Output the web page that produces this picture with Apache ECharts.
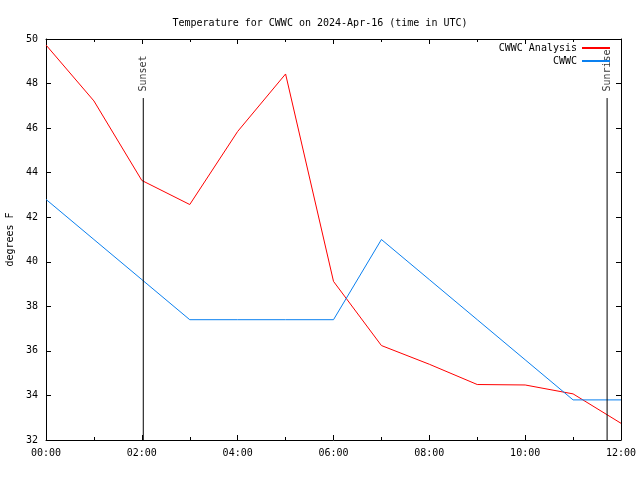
<!DOCTYPE html>
<html>
<head>
<meta charset="utf-8">
<script src="https://cdn.jsdelivr.net/npm/echarts@6/dist/echarts.min.js"></script>
<style>html,body{margin:0;padding:0;background:#fff}#c{width:640px;height:480px}</style>
</head>
<body>
<div id="c"></div>
<script>
const hours = [0,1,2,3,4,5,6,7,8,9,10,11,12];
const analysis = [49.73, 47.22, 43.65, 42.57, 45.85, 48.43, 39.12, 36.24, 35.4, 34.49, 34.47, 34.07, 32.75];
const observed = [42.8, 41.0, 39.2, 37.4, 37.4, 37.4, 37.4, 41.0, 39.2, 37.4, 35.6, 33.8, 33.8];
const sunsetHour = 2.03;
const sunriseHour = 11.71;
const markerTop = 47.35;
const markerNames = ['Sunset', 'Sunrise'];
const seriesNames = ['CWWC Analysis', 'CWWC'];
const titleText = 'Temperature for CWWC on 2024-Apr-16 (time in UTC)';
const yName = 'degrees F';

const FONT = 'DejaVu Sans Mono';
const fmtHour = v => (v < 10 ? '0' + v : '' + v) + ':00';

const chart = echarts.init(document.getElementById('c'), null, {renderer: 'canvas'});
const axisCommon = {
  axisLine: {show: true, onZero: false, lineStyle: {color: '#000', width: 1}},
  splitLine: {show: false}
};
const markerLabel = {show: true, position: 'top', distance: 6, rotate: 90,
  align: 'left', verticalAlign: 'middle', fontFamily: FONT, fontSize: 10, color: '#000',
  formatter: p => p.data[2]};
chart.setOption({
  animation: false,
  backgroundColor: '#fff',
  title: {text: titleText, left: 'center', top: 13,
    textStyle: {fontFamily: FONT, fontSize: 10, fontWeight: 'normal', color: '#000'}},
  legend: [
    {data: [seriesNames[0]], orient: 'vertical', right: 30, top: 43, align: 'right',
      itemWidth: 28, itemHeight: 2, icon: 'rect', padding: 0,
      textStyle: {fontFamily: FONT, fontSize: 10, color: '#000'}},
    {data: [seriesNames[1]], orient: 'vertical', right: 30, top: 56, align: 'right',
      itemWidth: 28, itemHeight: 2, icon: 'rect', padding: 0,
      textStyle: {fontFamily: FONT, fontSize: 10, color: '#000'}}
  ],
  grid: {left: 46, right: 19, top: 39, bottom: 40, containLabel: false, outerBoundsMode: 'none'},
  xAxis: [
    Object.assign({type: 'value', min: 0, max: 12, interval: 2, position: 'bottom',
      axisTick: {inside: true, length: 5, lineStyle: {color: '#000'}},
      minorTick: {show: true, splitNumber: 2, length: 3, lineStyle: {color: '#000'}},
      axisLabel: {formatter: fmtHour, fontFamily: FONT, fontSize: 10, color: '#000', margin: 8}}, axisCommon),
    Object.assign({type: 'value', min: 0, max: 12, interval: 2, position: 'top',
      axisTick: {inside: true, length: 5, lineStyle: {color: '#000'}},
      minorTick: {show: true, splitNumber: 2, length: 3, lineStyle: {color: '#000'}},
      axisLabel: {show: false}}, axisCommon)
  ],
  yAxis: [
    Object.assign({type: 'value', min: 32, max: 50, interval: 2, position: 'left',
      name: yName, nameLocation: 'middle', nameGap: 30, nameRotate: 90,
      nameTextStyle: {fontFamily: FONT, fontSize: 10, color: '#000'},
      axisTick: {inside: true, length: 5, lineStyle: {color: '#000'}},
      axisLabel: {fontFamily: FONT, fontSize: 10, color: '#000', margin: 8}}, axisCommon),
    Object.assign({type: 'value', min: 32, max: 50, interval: 2, position: 'right',
      axisTick: {inside: true, length: 5, lineStyle: {color: '#000'}},
      axisLabel: {show: false}}, axisCommon)
  ],
  series: [
    {name: seriesNames[0], type: 'line', color: '#ff0000', symbol: 'none',
      lineStyle: {width: 1, color: '#ff0000'},
      data: hours.map((h, i) => [h, analysis[i]]), z: 3},
    {name: seriesNames[1], type: 'line', color: '#0a80f0', symbol: 'none',
      lineStyle: {width: 1, color: '#0a80f0'},
      data: hours.map((h, i) => [h, observed[i]]), z: 3},
    {name: markerNames[0], type: 'line', symbol: 'none', silent: true,
      lineStyle: {width: 1, color: '#000'},
      data: [[sunsetHour, 32], [sunsetHour, markerTop]]},
    {name: markerNames[1], type: 'line', symbol: 'none', silent: true,
      lineStyle: {width: 1, color: '#000'},
      data: [[sunriseHour, 32], [sunriseHour, markerTop]]},
    {name: 'markerLabels', type: 'scatter', symbol: 'circle', symbolSize: 1, silent: true,
      itemStyle: {color: 'rgba(0,0,0,0)'},
      label: markerLabel,
      data: [[sunsetHour, markerTop, markerNames[0]], [sunriseHour, markerTop, markerNames[1]]]}
  ]
});
</script>
</body>
</html>
